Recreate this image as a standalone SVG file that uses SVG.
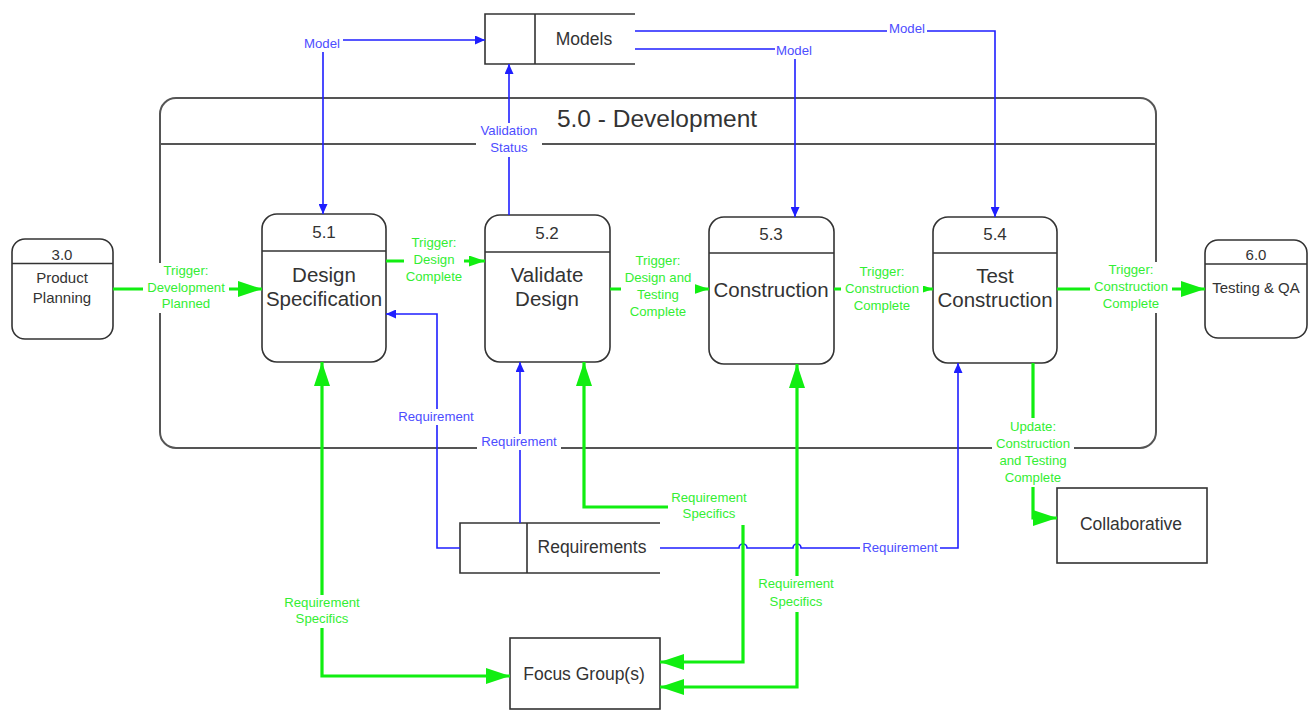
<svg xmlns="http://www.w3.org/2000/svg" width="1314" height="711" viewBox="0 0 1314 711">
  <style>
    .box { fill: #fff; stroke: #333; stroke-width: 1.6; }
    .sep { fill: none; stroke: #333; stroke-width: 1.6; }
    .frame { fill: none; stroke: #555; stroke-width: 2; }
    .num { font-family: "Liberation Sans", Arial, sans-serif; font-size: 17px; fill: #333; text-anchor: middle; }
    .title { font-family: "Liberation Sans", Arial, sans-serif; font-size: 20.5px; fill: #333; text-anchor: middle; }
    .small { font-family: "Liberation Sans", Arial, sans-serif; font-size: 15px; fill: #333; text-anchor: middle; }
    .store { font-family: "Liberation Sans", Arial, sans-serif; font-size: 17.5px; fill: #333; text-anchor: middle; }
    .big { font-family: "Liberation Sans", Arial, sans-serif; font-size: 24.5px; fill: #333; text-anchor: middle; }
    .blue { fill: none; stroke: #1f1fff; stroke-width: 1.6; }
    .green { fill: none; stroke: #11ee11; stroke-width: 3.2; }
    .lbg { fill: #fff; }
    .lb { font-family: "Liberation Sans", Arial, sans-serif; font-size: 13.2px; fill: #4d4dff; text-anchor: middle; }
    .lg { font-family: "Liberation Sans", Arial, sans-serif; font-size: 13.2px; fill: #33ee33; text-anchor: middle; }
  </style>
  <defs>
    <marker id="ab" viewBox="0 0 10 9" refX="10" refY="4.5" markerWidth="10" markerHeight="9" markerUnits="userSpaceOnUse" orient="auto-start-reverse">
      <path d="M0,0 L10,4.5 L0,9 Z" fill="#1f1fff"/>
    </marker>
    <marker id="gBig" viewBox="0 0 24 16" refX="24" refY="8" markerWidth="24" markerHeight="16" markerUnits="userSpaceOnUse" orient="auto-start-reverse">
      <path d="M0,0 L24,8 L0,16 Z" fill="#11ee11"/>
    </marker>
    <marker id="gSmall" viewBox="0 0 16 11" refX="16" refY="5.5" markerWidth="16" markerHeight="11" markerUnits="userSpaceOnUse" orient="auto">
      <path d="M0,0 L16,5.5 L0,11 Z" fill="#11ee11"/>
    </marker>
    <marker id="gTiny" viewBox="0 0 10 7" refX="10" refY="3.5" markerWidth="10" markerHeight="7" markerUnits="userSpaceOnUse" orient="auto">
      <path d="M0,0 L10,3.5 L0,7 Z" fill="#11ee11"/>
    </marker>
  </defs>

  <rect width="1314" height="711" fill="#fff"/>

  <!-- Development process boundary -->
  <g id="dev">
    <rect class="frame" x="160" y="98" width="996" height="350" rx="16"/>
    <path class="frame" d="M160,144 H1156"/>
    <text class="big" x="657" y="127">5.0 - Development</text>
  </g>

  <!-- data stores -->
  <g id="models">
    <path class="sep" d="M635,14 H485 V64 H635 M535,14 V64"/>
    <text class="store" x="584" y="45">Models</text>
  </g>
  <g id="requirements">
    <path class="sep" d="M660,523 H460 V573 H660 M527,523 V573"/>
    <text class="store" x="592" y="553">Requirements</text>
  </g>

  <!-- processes -->
  <g id="p30">
    <rect class="box" x="12" y="239" width="101" height="100" rx="13"/>
    <path class="sep" d="M12,263.5 H113"/>
    <text class="small" x="62" y="260">3.0</text>
    <text class="small" x="62" y="283">Product</text>
    <text class="small" x="62" y="303">Planning</text>
  </g>
  <g id="p51">
    <rect class="box" x="262" y="214" width="124" height="148" rx="15"/>
    <path class="sep" d="M262,251 H386"/>
    <text class="num" x="324" y="238">5.1</text>
    <text class="title" x="324" y="282">Design</text>
    <text class="title" x="324" y="306">Specification</text>
  </g>
  <g id="p52">
    <rect class="box" x="485" y="215" width="125" height="147" rx="15"/>
    <path class="sep" d="M485,252 H610"/>
    <text class="num" x="547" y="239">5.2</text>
    <text class="title" x="547" y="282">Validate</text>
    <text class="title" x="547" y="306">Design</text>
  </g>
  <g id="p53">
    <rect class="box" x="709" y="217" width="125" height="147" rx="15"/>
    <path class="sep" d="M709,253 H834"/>
    <text class="num" x="771" y="240">5.3</text>
    <text class="title" x="771" y="297">Construction</text>
  </g>
  <g id="p54">
    <rect class="box" x="933" y="217" width="124" height="146" rx="15"/>
    <path class="sep" d="M933,253 H1057"/>
    <text class="num" x="995" y="240">5.4</text>
    <text class="title" x="995" y="283">Test</text>
    <text class="title" x="995" y="307">Construction</text>
  </g>
  <g id="p60">
    <rect class="box" x="1205" y="240" width="102" height="98" rx="13"/>
    <path class="sep" d="M1205,264 H1307"/>
    <text class="small" x="1256" y="260">6.0</text>
    <text class="small" x="1256" y="293">Testing &amp; QA</text>
  </g>

  <!-- external entities -->
  <g id="collab">
    <rect class="box" x="1057" y="488" width="150" height="75"/>
    <text class="store" x="1131" y="530">Collaborative</text>
  </g>
  <g id="focus">
    <rect class="box" x="510" y="638" width="150" height="71"/>
    <text class="store" x="584" y="680">Focus Group(s)</text>
  </g>

  <!-- data flows -->
  <g id="connectors">
    <!-- model flows -->
    <path class="blue" d="M485,40 H323 V214" marker-start="url(#ab)" marker-end="url(#ab)"/>
    <path class="blue" d="M509,215 V64" marker-end="url(#ab)"/>
    <path class="blue" d="M635,49 H795 V217" marker-end="url(#ab)"/>
    <path class="blue" d="M635,31 H995 V217" marker-end="url(#ab)"/>
    <!-- requirement flows -->
    <path class="blue" d="M460,548 H437 V314 H386" marker-end="url(#ab)"/>
    <path class="blue" d="M520,523 V362" marker-end="url(#ab)"/>
    <path class="blue" d="M660,548 H739 a4,4 0 0 1 8,0 H793 a4,4 0 0 1 8,0 H958 V363" marker-end="url(#ab)"/>

    <!-- triggers -->
    <path class="green" d="M113,289 H262" marker-end="url(#gBig)"/>
    <path class="green" d="M386,261 H485" marker-end="url(#gSmall)"/>
    <path class="green" d="M610,289 H709" marker-end="url(#gSmall)"/>
    <path class="green" d="M834,289 H933" marker-end="url(#gTiny)"/>
    <path class="green" d="M1057,289 H1205" marker-end="url(#gBig)"/>
    <path class="green" d="M1033,363 V518 H1057" marker-end="url(#gBig)"/>
    <!-- requirement specifics -->
    <path class="green" d="M322,362 V676 H510" marker-start="url(#gBig)" marker-end="url(#gBig)"/>
    <path class="green" d="M584,362 V507 H743 V662 H660" marker-start="url(#gBig)" marker-end="url(#gBig)"/>
    <path class="green" d="M797,364 V687 H660" marker-start="url(#gBig)" marker-end="url(#gBig)"/>

    <!-- labels -->
    <rect class="lbg" x="303" y="36" width="40" height="16"/>
    <text class="lb" x="322" y="48">Model</text>
    <rect class="lbg" x="476" y="123" width="66" height="34"/>
    <text class="lb" x="509" y="135">Validation</text>
    <text class="lb" x="509" y="152">Status</text>
    <rect class="lbg" x="775" y="43" width="39" height="16"/>
    <text class="lb" x="794" y="55">Model</text>
    <rect class="lbg" x="887" y="21" width="40" height="16"/>
    <text class="lb" x="907" y="33">Model</text>
    <rect class="lbg" x="396" y="409" width="80" height="16"/>
    <text class="lb" x="436" y="421">Requirement</text>
    <rect class="lbg" x="477" y="434" width="84" height="16"/>
    <text class="lb" x="519" y="446">Requirement</text>
    <rect class="lbg" x="860" y="540" width="80" height="16"/>
    <text class="lb" x="900" y="552">Requirement</text>

    <rect class="lbg" x="143" y="263" width="86" height="50"/>
    <text class="lg" x="186" y="275">Trigger:</text>
    <text class="lg" x="186" y="292">Development</text>
    <text class="lg" x="186" y="308">Planned</text>
    <rect class="lbg" x="404" y="235" width="60" height="51"/>
    <text class="lg" x="434" y="247">Trigger:</text>
    <text class="lg" x="434" y="264">Design</text>
    <text class="lg" x="434" y="281">Complete</text>
    <rect class="lbg" x="621" y="253" width="74" height="68"/>
    <text class="lg" x="658" y="265">Trigger:</text>
    <text class="lg" x="658" y="282">Design and</text>
    <text class="lg" x="658" y="299">Testing</text>
    <text class="lg" x="658" y="316">Complete</text>
    <rect class="lbg" x="841" y="264" width="82" height="51"/>
    <text class="lg" x="882" y="276">Trigger:</text>
    <text class="lg" x="882" y="293">Construction</text>
    <text class="lg" x="882" y="310">Complete</text>
    <rect class="lbg" x="1090" y="262" width="82" height="51"/>
    <text class="lg" x="1131" y="274">Trigger:</text>
    <text class="lg" x="1131" y="291">Construction</text>
    <text class="lg" x="1131" y="308">Complete</text>
    <rect class="lbg" x="992" y="418" width="82" height="69"/>
    <text class="lg" x="1033" y="431">Update:</text>
    <text class="lg" x="1033" y="448">Construction</text>
    <text class="lg" x="1033" y="465">and Testing</text>
    <text class="lg" x="1033" y="482">Complete</text>
    <rect class="lbg" x="281" y="595" width="82" height="33"/>
    <text class="lg" x="322" y="607">Requirement</text>
    <text class="lg" x="322" y="623">Specifics</text>
    <rect class="lbg" x="668" y="490" width="82" height="35"/>
    <text class="lg" x="709" y="502">Requirement</text>
    <text class="lg" x="709" y="518">Specifics</text>
    <rect class="lbg" x="755" y="576" width="83" height="36"/>
    <text class="lg" x="796" y="588">Requirement</text>
    <text class="lg" x="796" y="606">Specifics</text>
  </g>
</svg>
